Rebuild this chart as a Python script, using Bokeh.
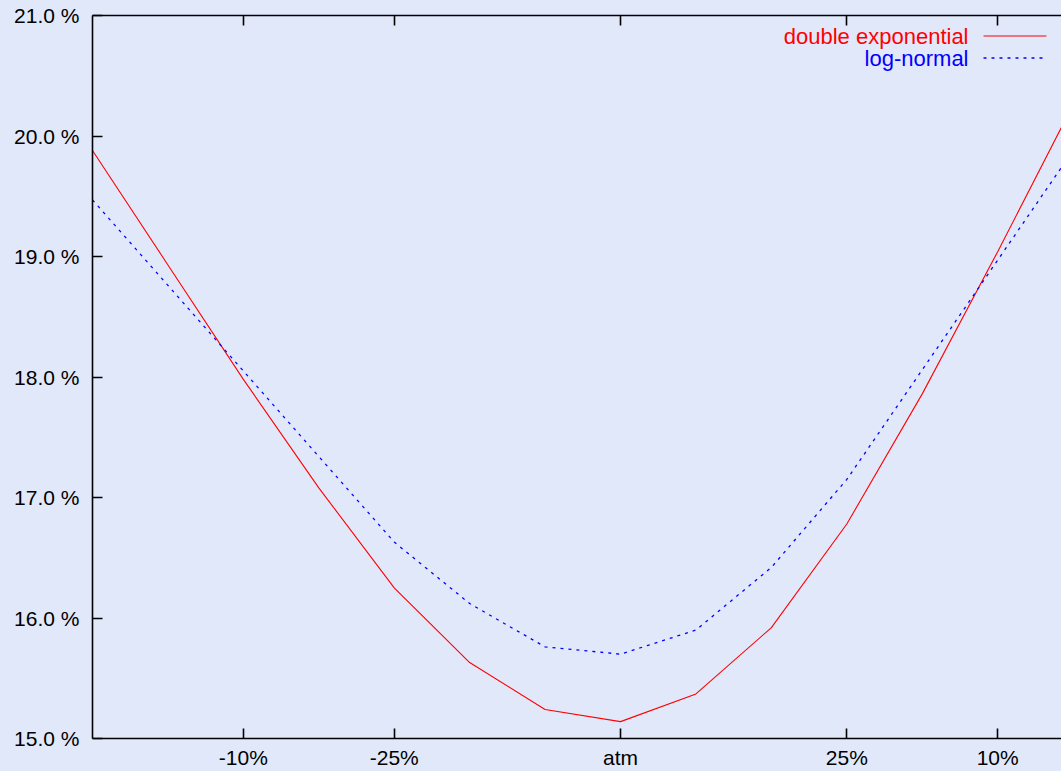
from bokeh.plotting import figure
from bokeh.models import Range1d, FixedTicker, LinearAxis, PrintfTickFormatter, Label
from bokeh.embed import file_html
from bokeh.resources import INLINE

# ---- data ----
strike_idx = [0, 1, 2, 3, 4, 5, 6, 7, 8, 9, 10, 11, 12, 13]
double_exponential = [19.88, 18.93, 17.98, 17.08, 16.25, 15.63, 15.24, 15.14,
                      15.37, 15.92, 16.78, 17.86, 19.04, 20.26]
log_normal = [19.47, 18.76, 18.05, 17.34, 16.63, 16.12, 15.76, 15.70,
              15.90, 16.42, 17.15, 18.06, 18.97, 19.88]
x_tick_pos = [2, 4, 7, 10, 12]
x_tick_labels = ["-10%", "-25%", "atm", "25%", "10%"]
y_tick_pos = [15, 16, 17, 18, 19, 20, 21]
series_names = ["double exponential", "log-normal"]

BG = "#E1E8FA"
FONT = "Liberation Sans"
FS = "21px"
LFS = "22px"
RED = "#FF0000"
BLUE = "#0000FF"
DASH = "3 5"

W, H = 1061, 771
LEFT, TOP, BOTTOM = 92, 15, 33
X0, X1 = 0, 12.846
Y0, Y1 = 15, 21

p = figure(width=W, height=H, output_backend="svg", toolbar_location=None,
           x_range=Range1d(X0, X1), y_range=Range1d(Y0, Y1),
           min_border_left=LEFT, min_border_right=0,
           min_border_top=TOP, min_border_bottom=BOTTOM)
p.background_fill_color = BG
p.border_fill_color = BG
p.outline_line_color = None
p.xgrid.visible = False
p.ygrid.visible = False

xt = FixedTicker(ticks=x_tick_pos, minor_ticks=[])
yt = FixedTicker(ticks=y_tick_pos, minor_ticks=[])
overrides = {t: l for t, l in zip(x_tick_pos, x_tick_labels)}


def style_axis(ax, label_font=FS, standoff=8):
    ax.axis_line_color = "black"
    ax.axis_line_width = 1.6
    ax.major_tick_line_color = "black"
    ax.major_tick_line_width = 1.6
    ax.major_tick_in = 10
    ax.major_tick_out = 0
    ax.minor_tick_line_color = None
    ax.major_label_text_font = FONT
    ax.major_label_text_font_size = label_font
    ax.major_label_text_color = "black"
    ax.major_label_standoff = standoff


xa = p.xaxis[0]
xa.ticker = xt
xa.major_label_overrides = overrides
style_axis(xa, standoff=7)

ya = p.yaxis[0]
ya.ticker = yt
ya.formatter = PrintfTickFormatter(format="%.1f %%")
style_axis(ya, standoff=13)

top_ax = LinearAxis(ticker=FixedTicker(ticks=x_tick_pos, minor_ticks=[]))
style_axis(top_ax, label_font="0px", standoff=0)
top_ax.major_label_text_color = None
p.add_layout(top_ax, "above")

p.line(strike_idx, double_exponential, line_color=RED, line_width=1.1)
p.line(strike_idx, log_normal, line_color=BLUE, line_width=1.3, line_dash=DASH)

# ---- legend (gnuplot style: label left, sample right) ----
frame_w = W - LEFT
frame_h = H - TOP - BOTTOM


def dx(px):  # pixel offset from frame left -> data x
    return X0 + (X1 - X0) * px / frame_w


def dy(py):  # pixel offset from frame top -> data y
    return Y1 - (Y1 - Y0) * py / frame_h


# red entry
p.add_layout(Label(x=dx(876), y=dy(21), text=series_names[0], text_align="right",
                   text_baseline="alphabetic", text_font=FONT,
                   text_font_size=LFS, text_color=RED))
p.line(x=[dx(891), dx(954)], y=[dy(20.5), dy(20.5)], line_color=RED, line_width=1.2)

# blue entry
p.add_layout(Label(x=dx(876), y=dy(43), text=series_names[1], text_align="right",
                   text_baseline="alphabetic", text_font=FONT,
                   text_font_size=LFS, text_color=BLUE))
p.line(x=[dx(891), dx(950)], y=[dy(42.5), dy(42.5)], line_color=BLUE, line_width=1.3,
       line_dash=DASH)

html = file_html(p, INLINE)
html = html.replace("</head>", "<style>html,body{background:%s;}</style></head>" % BG, 1)
open("out.html", "w").write(html)
